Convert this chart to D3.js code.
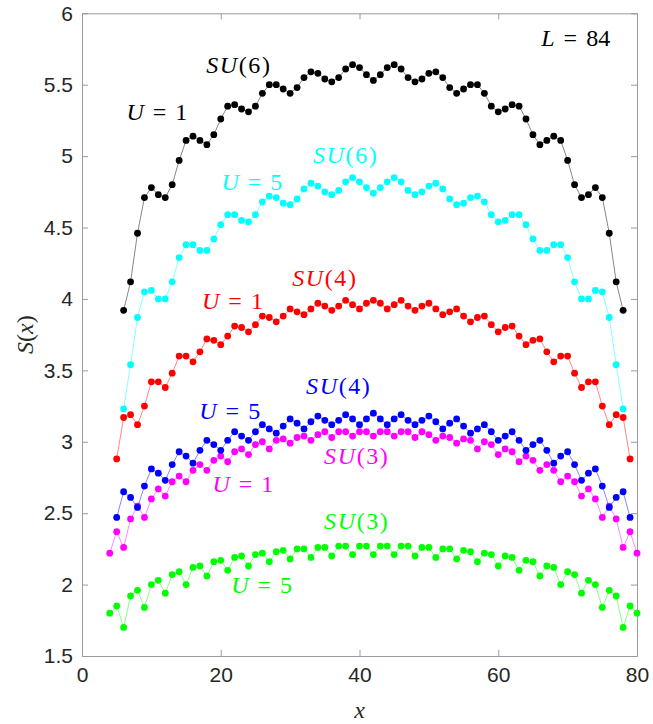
<!DOCTYPE html>
<html>
<head>
<meta charset="utf-8">
<script src="https://cdn.jsdelivr.net/npm/d3@7"></script>
<style>
  body { margin: 0; background: #fff; }
  text { white-space: pre; }
</style>
</head>
<body>
<div id="chart"></div>
<script>
const xTicks = [0, 20, 40, 60, 80];
const yTicks = [1.5, 2, 2.5, 3, 3.5, 4, 4.5, 5, 5.5, 6];

// S(x), one value per site x
const su6U1Start = 6;
const su6U1 = [3.92, 4.12, 4.46, 4.71, 4.78, 4.73, 4.71, 4.80, 4.97, 5.11, 5.14, 5.11, 5.08,
  5.15, 5.26, 5.35, 5.36, 5.33, 5.31, 5.35, 5.44, 5.50, 5.50, 5.47, 5.44, 5.48, 5.55, 5.59, 5.58,
  5.54, 5.52, 5.55, 5.61, 5.64, 5.62, 5.57, 5.53, 5.57, 5.62, 5.64, 5.61, 5.55, 5.52, 5.54, 5.58,
  5.59, 5.55, 5.48, 5.44, 5.47, 5.50, 5.50, 5.44, 5.35, 5.31, 5.33, 5.36, 5.35, 5.26, 5.15, 5.08,
  5.11, 5.14, 5.11, 4.97, 4.80, 4.71, 4.73, 4.78, 4.71, 4.46, 4.12, 3.92];

const su6U5Start = 6;
const su6U5 = [3.23, 3.54, 3.87, 4.05, 4.06, 4.00, 4.00, 4.12, 4.29, 4.38, 4.38, 4.34, 4.34,
  4.42, 4.52, 4.59, 4.59, 4.55, 4.54, 4.59, 4.68, 4.72, 4.71, 4.67, 4.66, 4.70, 4.77, 4.81, 4.79,
  4.75, 4.73, 4.76, 4.82, 4.85, 4.82, 4.78, 4.74, 4.78, 4.82, 4.85, 4.82, 4.76, 4.73, 4.75, 4.79,
  4.81, 4.77, 4.70, 4.66, 4.67, 4.71, 4.72, 4.68, 4.59, 4.54, 4.55, 4.59, 4.59, 4.52, 4.42,
  4.34, 4.34, 4.38, 4.38, 4.29, 4.12, 4.00, 4.00, 4.06, 4.05, 3.87, 3.54, 3.23];

const su4U1Start = 5;
const su4U1 = [2.88, 3.17, 3.19, 3.12, 3.25, 3.42, 3.42, 3.38, 3.48, 3.60, 3.60, 3.56, 3.63,
  3.72, 3.71, 3.68, 3.74, 3.81, 3.80, 3.77, 3.82, 3.88, 3.87, 3.84, 3.88, 3.93, 3.91, 3.89, 3.93,
  3.97, 3.95, 3.92, 3.95, 3.99, 3.96, 3.93, 3.97, 3.99, 3.97, 3.93, 3.96, 3.99, 3.95, 3.92, 3.95,
  3.97, 3.93, 3.89, 3.91, 3.93, 3.88, 3.84, 3.87, 3.88, 3.82, 3.77, 3.80, 3.81, 3.74, 3.68, 3.71,
  3.72, 3.63, 3.56, 3.60, 3.60, 3.48, 3.38, 3.42, 3.42, 3.25, 3.12, 3.19, 3.17, 2.88];

const su4U5Start = 5;
const su4U5 = [2.47, 2.65, 2.61, 2.54, 2.69, 2.81, 2.78, 2.73, 2.84, 2.93, 2.90, 2.85, 2.94,
  3.01, 2.98, 2.94, 3.01, 3.07, 3.04, 3.01, 3.07, 3.12, 3.09, 3.06, 3.11, 3.16, 3.13, 3.09, 3.14,
  3.18, 3.15, 3.12, 3.15, 3.19, 3.16, 3.12, 3.16, 3.20, 3.16, 3.12, 3.16, 3.19, 3.15, 3.12, 3.15,
  3.18, 3.14, 3.09, 3.13, 3.16, 3.11, 3.06, 3.09, 3.12, 3.07, 3.01, 3.04, 3.07, 3.01, 2.94, 2.98,
  3.01, 2.94, 2.85, 2.90, 2.93, 2.84, 2.73, 2.78, 2.81, 2.69, 2.54, 2.61, 2.65, 2.47];

const su3U1Start = 4;
const su3U1 = [2.22, 2.37, 2.26, 2.46, 2.55, 2.47, 2.60, 2.67, 2.62, 2.72, 2.76, 2.72, 2.80,
  2.84, 2.80, 2.87, 2.90, 2.86, 2.93, 2.95, 2.91, 2.98, 3.00, 2.95, 3.01, 3.02, 2.99, 3.03, 3.04,
  3.01, 3.05, 3.07, 3.03, 3.07, 3.07, 3.04, 3.07, 3.07, 3.04, 3.07, 3.07, 3.04, 3.07, 3.07, 3.03,
  3.07, 3.05, 3.01, 3.04, 3.03, 2.99, 3.02, 3.01, 2.95, 3.00, 2.98, 2.91, 2.95, 2.93, 2.86, 2.90,
  2.87, 2.80, 2.84, 2.80, 2.72, 2.76, 2.72, 2.62, 2.67, 2.60, 2.47, 2.55, 2.46, 2.26, 2.37, 2.22];

const su3U5Start = 4;
const su3U5 = [1.80, 1.85, 1.70, 1.92, 1.96, 1.84, 2.00, 2.03, 1.94, 2.07, 2.09, 2.00, 2.12,
  2.13, 2.06, 2.16, 2.17, 2.10, 2.19, 2.20, 2.13, 2.21, 2.22, 2.16, 2.23, 2.24, 2.18, 2.25, 2.25,
  2.19, 2.26, 2.26, 2.20, 2.27, 2.27, 2.21, 2.27, 2.27, 2.21, 2.27, 2.27, 2.21, 2.27, 2.27, 2.20,
  2.26, 2.26, 2.19, 2.25, 2.25, 2.18, 2.24, 2.23, 2.16, 2.22, 2.21, 2.13, 2.20, 2.19, 2.10, 2.17,
  2.16, 2.06, 2.13, 2.12, 2.00, 2.09, 2.07, 1.94, 2.03, 2.00, 1.84, 1.96, 1.92, 1.70, 1.85, 1.80];

const series = [
  { start: su6U1Start, values: su6U1, color: "#000000" },
  { start: su6U5Start, values: su6U5, color: "#00ffff" },
  { start: su4U1Start, values: su4U1, color: "#ff0000" },
  { start: su3U1Start, values: su3U1, color: "#ff00ff" },
  { start: su4U5Start, values: su4U5, color: "#0000ff" },
  { start: su3U5Start, values: su3U5, color: "#00ff00" }
];

// group labels "SU(n)" and interaction labels "U = ..."
const groupLabels = [
  { n: "6", color: "#000000", x: 17.9, y: 5.64 },
  { n: "6", color: "#00ffff", x: 33.3, y: 5.01 },
  { n: "4", color: "#ff0000", x: 30.3, y: 4.15 },
  { n: "4", color: "#0000ff", x: 32.3, y: 3.39 },
  { n: "3", color: "#ff00ff", x: 34.9, y: 2.90 },
  { n: "3", color: "#00ff00", x: 34.9, y: 2.45 }
];
const eqLabels = [
  { name: "U", val: "1", color: "#000000", x: 6.4, y: 5.31 },
  { name: "U", val: "5", color: "#00ffff", x: 20.1, y: 4.82 },
  { name: "U", val: "1", color: "#ff0000", x: 17.3, y: 3.99 },
  { name: "U", val: "5", color: "#0000ff", x: 16.9, y: 3.22 },
  { name: "U", val: "1", color: "#ff00ff", x: 18.8, y: 2.71 },
  { name: "U", val: "5", color: "#00ff00", x: 21.5, y: 2.00 },
  { name: "L", val: "84", color: "#000000", x: 66.2, y: 5.83 }
];

const W = 653, H = 724;
const margin = { top: 13.3, right: 16, bottom: 68, left: 82 };
const width = W - margin.left - margin.right;
const height = H - margin.top - margin.bottom;

const svg = d3.select("#chart").append("svg")
  .attr("width", W)
  .attr("height", H);

const g = svg.append("g")
  .attr("transform", `translate(${margin.left}, ${margin.top})`);

const x = d3.scaleLinear().domain([0, 80]).range([0, width]);
const y = d3.scaleLinear().domain([1.5, 6]).range([height, 0]);

const axisColor = "#9a9a9a";
const tickFont = "'Liberation Sans', Arial, Helvetica, sans-serif";

function styleAxis(sel, showText) {
  sel.select(".domain").attr("stroke", axisColor).attr("stroke-width", 1);
  sel.selectAll(".tick line").attr("stroke", axisColor).attr("stroke-width", 1);
  sel.selectAll(".tick text")
    .attr("fill", "#262626")
    .style("font-family", tickFont)
    .style("font-size", "21px")
    .style("display", showText ? null : "none");
}

g.append("g")
  .attr("transform", `translate(0, ${height})`)
  .call(d3.axisBottom(x).tickValues(xTicks).tickSize(-6).tickSizeOuter(0).tickPadding(11))
  .call(s => styleAxis(s, true));

g.append("g")
  .call(d3.axisTop(x).tickValues(xTicks).tickSize(-6).tickSizeOuter(0))
  .call(s => styleAxis(s, false));

g.append("g")
  .call(d3.axisLeft(y).tickValues(yTicks).tickFormat(d3.format("")).tickSize(-6).tickSizeOuter(0).tickPadding(9))
  .call(s => styleAxis(s, true));

g.append("g")
  .attr("transform", `translate(${width}, 0)`)
  .call(d3.axisRight(y).tickValues(yTicks).tickSize(-6).tickSizeOuter(0))
  .call(s => styleAxis(s, false));

const line = d3.line()
  .x(d => x(d.x))
  .y(d => y(d.v));

series.forEach(s => {
  const pts = s.values.map((v, i) => ({ x: s.start + i, v: v }));
  g.append("path")
    .datum(pts)
    .attr("fill", "none")
    .attr("stroke", s.color)
    .attr("stroke-opacity", 0.6)
    .attr("stroke-width", 0.8)
    .attr("d", line);
  g.selectAll(null)
    .data(pts)
    .enter().append("circle")
    .attr("cx", d => x(d.x))
    .attr("cy", d => y(d.v))
    .attr("r", 3.4)
    .attr("fill", s.color);
});

const serif = "'Liberation Serif', 'Times New Roman', serif";

groupLabels.forEach(l => {
  const t = g.append("text")
    .attr("x", x(l.x))
    .attr("y", y(l.y))
    .attr("dy", "0.35em")
    .attr("fill", l.color)
    .style("font-family", serif)
    .style("font-size", "24px")
    .style("letter-spacing", "1.6px");
  t.append("tspan").style("font-style", "italic").text("SU");
  t.append("tspan").text(`(${l.n})`);
});

eqLabels.forEach(l => {
  const t = g.append("text")
    .attr("x", x(l.x))
    .attr("y", y(l.y))
    .attr("dy", "0.35em")
    .attr("fill", l.color)
    .style("font-family", serif)
    .style("font-size", "24px");
  t.append("tspan").style("font-style", "italic").text(l.name);
  t.append("tspan").attr("dx", 9).text("=");
  t.append("tspan").attr("dx", 9).text(l.val);
});

// axis titles
svg.append("text")
  .attr("transform", `translate(33, ${margin.top + height / 2}) rotate(-90)`)
  .attr("text-anchor", "middle")
  .attr("fill", "#262626")
  .style("font-family", serif)
  .style("font-size", "24px")
  .call(t => {
    t.append("tspan").style("font-style", "italic").text("S");
    t.append("tspan").text("(");
    t.append("tspan").style("font-style", "italic").text("x");
    t.append("tspan").text(")");
  });

svg.append("text")
  .attr("x", margin.left + width / 2)
  .attr("y", 718)
  .attr("text-anchor", "middle")
  .attr("fill", "#262626")
  .style("font-family", serif)
  .style("font-style", "italic")
  .style("font-size", "24px")
  .text("x");
</script>
</body>
</html>
